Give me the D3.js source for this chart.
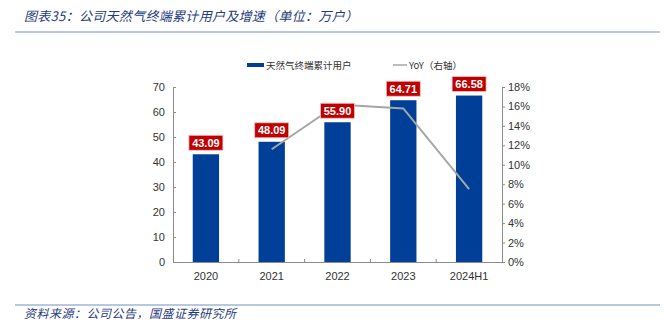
<!DOCTYPE html>
<html><head><meta charset="utf-8">
<script src="https://cdn.jsdelivr.net/npm/d3@7"></script>
<style>body{margin:0;background:#fff}svg{display:block}</style>
</head><body><svg id="c" width="664" height="322"></svg>
<script>
const categories = ["2020","2021","2022","2023","2024H1"];
const users = [43.09,48.09,55.90,64.71,66.58];
const yoyCats = ["2021","2022","2023","2024H1"];
const yoy = [11.6,16.2,15.8,7.5];
const leftTicks = [0,10,20,30,40,50,60,70];
const rightTicks = [0,2,4,6,8,10,12,14,16,18];
const title = "图表35：公司天然气终端累计用户及增速（单位：万户）";
const source = "资料来源：公司公告，国盛证券研究所";
const legendBar = "天然气终端累计用户";
const legendLine = "YoY（右轴）";

(function(){
const svg = d3.select("#c");
const font = "'Noto Sans CJK SC', 'Noto Sans', sans-serif";
const navy = "#1f3c7c";
const pL=173, pR=502, pT=87, pB=262;
const x = d3.scaleBand().domain(categories).range([pL,pR]).paddingInner(0.6).paddingOuter(0.3);
const xb = d3.scaleBand().domain(categories).range([pL,pR]);
const y = d3.scaleLinear().domain([0,70]).range([pB,pT]);
const y2 = d3.scaleLinear().domain([0,18]).range([pB,pT]);

svg.append("text").attr("x",24).attr("y",21).attr("fill",navy).attr("font-family",font)
  .attr("font-size",13).attr("font-style","italic").attr("letter-spacing",0.3).text(title);
svg.append("line").attr("x1",15).attr("x2",660).attr("y1",32).attr("y2",32).attr("stroke","#7391c2").attr("stroke-width",1.2);
svg.append("line").attr("x1",15).attr("x2",660).attr("y1",305).attr("y2",305).attr("stroke","#7391c2").attr("stroke-width",1.2);
svg.append("text").attr("x",24).attr("y",318).attr("fill",navy).attr("font-family",font)
  .attr("font-size",12).attr("font-style","italic").attr("letter-spacing",0.5).text(source);

svg.append("g").selectAll("rect").data(categories).join("rect")
  .attr("x",d=>x(d)).attr("width",x.bandwidth())
  .attr("y",(d,i)=>y(users[i])).attr("height",(d,i)=>pB-y(users[i]))
  .attr("fill","#003f98");

const axisColor="#8c8c8c";
const gl = svg.append("g").attr("transform",`translate(${pL},0)`)
  .call(d3.axisLeft(y).tickValues(leftTicks).tickSize(-3).tickPadding(8));
const gr = svg.append("g").attr("transform",`translate(${pR},0)`)
  .call(d3.axisRight(y2).tickValues(rightTicks).tickSize(3).tickPadding(3).tickFormat(d=>d+"%"));
const gx = svg.append("g").attr("transform",`translate(0,${pB})`)
  .call(d3.axisBottom(xb).tickSize(0).tickPadding(10));
[gl,gr,gx].forEach(g=>{
  g.select(".domain").attr("stroke",axisColor);
  g.selectAll(".tick line").attr("stroke",axisColor);
  g.selectAll("text").attr("font-family","'Liberation Sans', Arial, sans-serif").attr("font-size",11).attr("fill","#333");
});
svg.append("g").selectAll("line").data(categories.slice(1)).join("line")
  .attr("x1",d=>xb(d)).attr("x2",d=>xb(d)).attr("y1",pB).attr("y2",pB-3)
  .attr("stroke",axisColor);

const line = d3.line().x((d,i)=>xb(yoyCats[i])+xb.bandwidth()/2).y(d=>y2(d));
svg.append("path").datum(yoy).attr("d",line).attr("fill","none").attr("stroke","#a6a6a6").attr("stroke-width",2);

const lg = svg.append("g").selectAll("g").data(categories).join("g")
  .attr("transform",(d,i)=>`translate(${x(d)+x.bandwidth()/2},${y(users[i])-3})`);
lg.append("rect").attr("x",-17).attr("y",-16).attr("width",34).attr("height",15).attr("fill","#c00000")
  .attr("stroke","#f3c4c4").attr("stroke-width",0.8);
lg.append("text").attr("y",-4.5).attr("text-anchor","middle").attr("fill","#fff")
  .attr("font-family","'Liberation Sans', Arial, sans-serif").attr("font-weight","bold").attr("font-size",11)
  .text((d,i)=>users[i].toFixed(2));

svg.append("rect").attr("x",247).attr("y",63).attr("width",17).attr("height",4).attr("fill","#003f98");
svg.append("text").attr("x",266).attr("y",69).attr("font-family",font).attr("font-size",9.5).attr("fill","#333").text(legendBar);
svg.append("line").attr("x1",393).attr("x2",407).attr("y1",65).attr("y2",65).attr("stroke","#a6a6a6").attr("stroke-width",1.5);
svg.append("text").attr("x",409).attr("y",69).attr("font-family",font).attr("font-size",9.5).attr("fill","#333").text(legendLine);
})();
</script></body></html>
